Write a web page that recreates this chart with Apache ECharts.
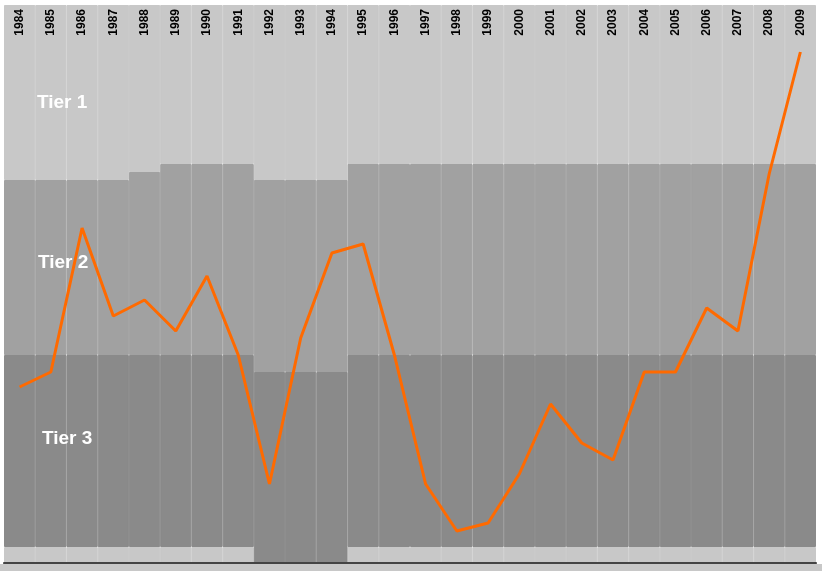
<!DOCTYPE html>
<html><head><meta charset="utf-8">
<script src="https://cdn.jsdelivr.net/npm/echarts@6/dist/echarts.min.js"></script>
<style>html,body{margin:0;padding:0;background:#fff}#c{width:822px;height:571px}</style>
</head><body><div id="c"></div>
<script>
const years = ['1984','1985','1986','1987','1988','1989','1990','1991','1992','1993','1994','1995','1996','1997','1998','1999','2000','2001','2002','2003','2004','2005','2006','2007','2008','2009'];
const values = [176,191,335,247,263,232,287,208,79,225,310,319,208,79,32,40,89,159,120,103,191,191,255,232,389,511];
// band boundaries (from the bottom)
const stripTop = [16,16,16,16,16,16,16,16,0,0,0,16,16,16,16,16,16,16,16,16,16,16,16,16,16,16];
const tier3Top = [208,208,208,208,208,208,208,208,191,191,191,208,208,208,208,208,208,208,208,208,208,208,208,208,208,208];
const tier2Top = [383,383,383,383,391,399,399,399,383,383,383,399,399,399,399,399,399,399,399,399,399,399,399,399,399,399];
const tier1Top = 558;

const diff = (a,b)=>a.map((v,i)=>v-(Array.isArray(b)?b[i]:b));
const bar = (name,data,color)=>({name,type:'bar',stack:'bg',data,barCategoryGap:0,itemStyle:{color,borderColor:color,borderWidth:1},silent:true,animation:false});

const chart = echarts.init(document.getElementById('c'));
chart.setOption({
  animation:false,
  grid:{left:4,right:6,top:5,bottom:8},
  xAxis:[{type:'category',data:years,position:'top',boundaryGap:true,z:10,
    axisLine:{lineStyle:{color:'#555'}},
    axisTick:{inside:true,length:5,lineStyle:{color:'#333'}},
    axisLabel:{inside:true,rotate:90,color:'#000',fontWeight:'bold',fontSize:12,fontFamily:'Liberation Sans, Arial',interval:0,margin:4}},
   {type:'category',data:years,position:'bottom',z:10,axisLine:{lineStyle:{color:'#444',width:2}},axisTick:{show:false},axisLabel:{show:false}}],
  yAxis:{type:'value',min:0,max:tier1Top,show:false,splitLine:{show:false}},
  graphic:[
    {type:'rect',shape:{x:0,y:564,width:822,height:7},style:{fill:'#c8c8c8'},z:-1},
    {type:'text',left:37,top:93,style:{text:'Tier 1',fill:'#fff',font:'bold 19px Liberation Sans, Arial'},z:10},
    {type:'text',left:38,top:253,style:{text:'Tier 2',fill:'#fff',font:'bold 19px Liberation Sans, Arial'},z:10},
    {type:'text',left:42,top:429,style:{text:'Tier 3',fill:'#fff',font:'bold 19px Liberation Sans, Arial'},z:10}
  ],
  series:[
    bar('strip',stripTop,'#c8c8c8'),
    bar('Tier 3',diff(tier3Top,stripTop),'#8a8a8a'),
    bar('Tier 2',diff(tier2Top,tier3Top),'#a1a1a1'),
    bar('Tier 1',tier2Top.map(v=>tier1Top-v),'#c8c8c8'),
    {type:'line',data:values,symbol:'none',lineStyle:{color:'#ff6a00',width:3},z:5}
  ]
});
</script></body></html>
